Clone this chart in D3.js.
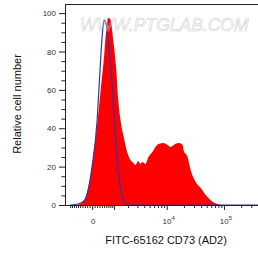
<!DOCTYPE html>
<html>
<head>
<meta charset="utf-8">
<script src="https://cdn.jsdelivr.net/npm/d3@7"></script>
<style>
    body { margin: 0; background: #fff; }
    svg text { font-family: "Liberation Sans", Arial, sans-serif; }
</style>
</head>
<body>
<div id="chart"></div>
<script>

// Sample histogram (red, filled): fluorescence value, relative count
const sampleX = [-742, -504, -415, -287, -162, 0, 203, 372, 504, 596, 692, 793, 954, 1130, 1254,
    1460, 1690, 1920, 2220, 2530, 2750, 3130, 3400, 3700, 4190, 4760, 5600, 6330, 7160, 8780,
    10330, 11680, 13200, 16150, 18970, 19770, 23200, 26200, 32100, 39300, 48100, 63800, 78100, 88100];
const sampleY = [0, 0.5, 1, 3.6, 8.9, 20.3, 41.7, 62.5, 78.1, 91.1, 97.4, 96.9, 85.9, 70.3, 54.7,
    41.7, 33.9, 27.6, 23.4, 21.9, 20.8, 22.9, 21.4, 22.4, 21.4, 25, 27.6, 30.2, 31.8, 32.3,
    31.3, 30.2, 31.3, 32.3, 31.3, 28.6, 25, 18.2, 12, 8.9, 5.2, 1.6, 0.5, 0];

// Control histogram (blue line)
const controlX = [-1010, -596, -287, -162, 0, 203, 287, 372, 459, 504, 596, 692, 793, 898, 954,
    1071, 1190, 1390, 1610, 1920, 2420, 400000];
const controlY = [0, 0.5, 2.6, 7.8, 20.3, 44.3, 62.5, 80.7, 93.8, 96.4, 94.3, 85.9, 75.5, 62.5, 54.7,
    39.1, 23.4, 9.4, 2.6, 0.5, 0, 0];

// Axis ticks
const xMajorTicks = [0, 1000, 10000, 100000];
const xMinorTicks = [-1000, -900, -800, -700, -600, -500, -400, -300, -200, -100,
    100, 200, 300, 400, 500, 600, 700, 800, 900,
    2000, 3000, 4000, 5000, 6000, 7000, 8000, 9000,
    20000, 30000, 40000, 50000, 60000, 70000, 80000, 90000,
    200000, 300000, 400000];
const xLabels = [
    { value: 0, base: "0", exp: "" },
    { value: 10000, base: "10", exp: "4" },
    { value: 100000, base: "10", exp: "5" }
];
const yMajorTicks = [0, 20, 40, 60, 80, 100];
const yMinorTicks = [5, 10, 15, 25, 30, 35, 45, 50, 55, 65, 70, 75, 85, 90, 95];

const width = 258;
const height = 255;
const margin = { top: 4.5, right: -2, bottom: 50, left: 65 };

const svg = d3.select("#chart")
    .append("svg")
    .attr("width", width)
    .attr("height", height);

// Logicle-like display transform
function logicle(v) {
    return Math.asinh(v / 1000);
}

const x = d3.scaleLinear()
    .domain([-1.0909, 6.747])
    .range([margin.left, width - margin.right]);

const y = d3.scaleLinear()
    .domain([0, 104.5])
    .range([height - margin.bottom, margin.top]);

const sample = sampleX.map(function(d, i) {
    return { x: d, y: sampleY[i] };
});

const control = controlX.map(function(d, i) {
    return { x: d, y: controlY[i] };
});

// Red filled histogram
const area = d3.area()
    .x(function(d) { return x(logicle(d.x)); })
    .y0(y(0))
    .y1(function(d) { return y(d.y); })
    .curve(d3.curveMonotoneX);

svg.append("path")
    .datum(sample)
    .attr("d", area)
    .attr("fill", "#ff0000");

// Blue control line
const line = d3.line()
    .x(function(d) { return x(logicle(d.x)); })
    .y(function(d) { return y(d.y); })
    .curve(d3.curveMonotoneX);

svg.append("path")
    .datum(control)
    .attr("d", line)
    .attr("fill", "none")
    .attr("stroke", "#3333aa")
    .attr("stroke-width", 1.2);

// Watermark, drawn over the plot
svg.append("text")
    .attr("x", 80)
    .attr("y", 31)
    .style("font-size", "17.5px")
    .style("font-style", "italic")
    .attr("fill", "none")
    .attr("stroke", "#c8c8c8")
    .attr("stroke-opacity", 0.85)
    .attr("stroke-width", 0.6)
    .text("WWW.PTGLAB.COM");

// Frame top line
svg.append("line")
    .attr("x1", margin.left)
    .attr("x2", width)
    .attr("y1", margin.top)
    .attr("y2", margin.top)
    .attr("stroke", "#222")
    .attr("stroke-width", 1);

// X axis
const xAxisG = svg.append("g")
    .attr("transform", "translate(0," + y(0) + ")");

xAxisG.append("g")
    .call(d3.axisBottom(x)
        .tickValues(xMinorTicks.map(logicle))
        .tickSize(3)
        .tickSizeOuter(0)
        .tickFormat(""));

xAxisG.append("g")
    .call(d3.axisBottom(x)
        .tickValues(xMajorTicks.map(logicle))
        .tickSize(5)
        .tickSizeOuter(0)
        .tickFormat(""));

xAxisG.selectAll("path.domain")
    .attr("stroke", "#222");

xAxisG.selectAll("line")
    .attr("stroke", "#222");

const xLabelText = svg.selectAll(".xlabel")
    .data(xLabels)
    .enter()
    .append("text")
    .attr("class", "xlabel")
    .attr("x", function(d) { return x(logicle(d.value)) + (d.exp ? 2 : 1); })
    .attr("y", 224)
    .attr("text-anchor", "middle")
    .attr("fill", "#333")
    .style("font-size", "8px");

xLabelText.append("tspan")
    .text(function(d) { return d.base; });

xLabelText.append("tspan")
    .attr("dy", -4)
    .style("font-size", "6px")
    .text(function(d) { return d.exp; });

// Y axis
const yAxisG = svg.append("g")
    .attr("transform", "translate(" + margin.left + ",0)");

yAxisG.append("g")
    .call(d3.axisLeft(y)
        .tickValues(yMinorTicks)
        .tickSize(3.5)
        .tickSizeOuter(0)
        .tickFormat(""));

yAxisG.append("g")
    .call(d3.axisLeft(y)
        .tickValues(yMajorTicks)
        .tickSize(6)
        .tickSizeOuter(0)
        .tickPadding(3));

yAxisG.selectAll("path.domain")
    .attr("stroke", "#222");

yAxisG.selectAll("line")
    .attr("stroke", "#222");

yAxisG.selectAll("text")
    .attr("fill", "#333")
    .style("font-size", "8px")
    .style("font-family", "'Liberation Sans', Arial, sans-serif");

// Axis titles
svg.append("text")
    .attr("x", 166)
    .attr("y", 244)
    .attr("text-anchor", "middle")
    .attr("fill", "#111")
    .style("font-size", "11px")
    .text("FITC-65162 CD73 (AD2)");

svg.append("text")
    .attr("transform", "translate(21,104) rotate(-90)")
    .attr("text-anchor", "middle")
    .attr("fill", "#111")
    .style("font-size", "11px")
    .text("Relative cell number");

</script>
</body>
</html>
